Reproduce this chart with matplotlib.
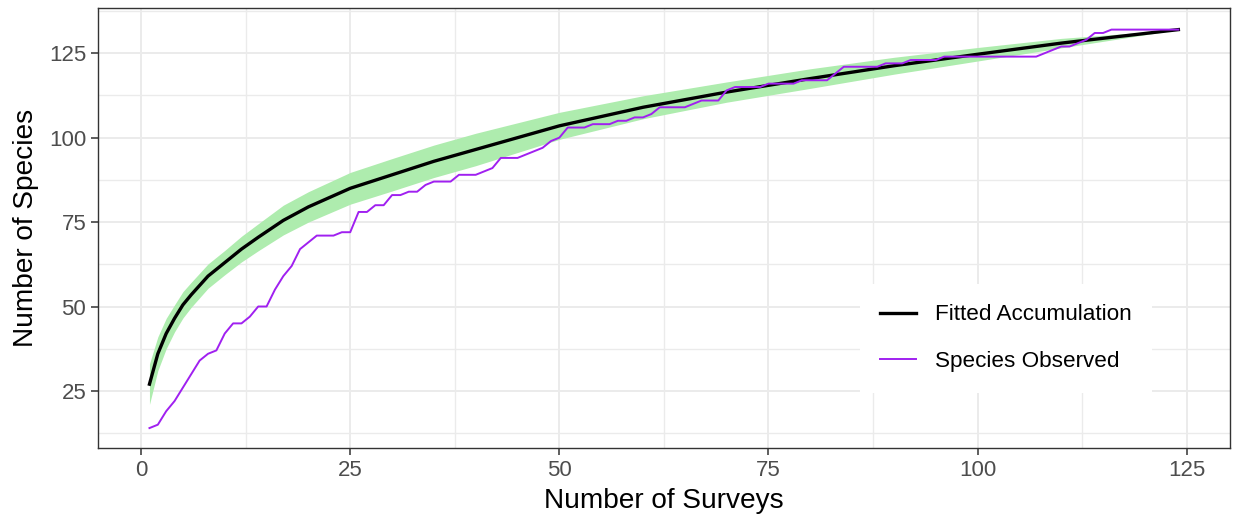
import numpy as np
import matplotlib
matplotlib.use("Agg")
import matplotlib.pyplot as plt
from matplotlib.ticker import MultipleLocator

plt.rcParams['font.family'] = ['Liberation Sans', 'DejaVu Sans']

# species observed after each survey
surveys = list(range(1, 125))
observed = [14, 15, 19, 22, 26, 30, 34, 36, 37, 42,
            45, 45, 47, 50, 50, 55, 59, 62, 67, 69,
            71, 71, 71, 72, 72, 78, 78, 80, 80, 83,
            83, 84, 84, 86, 87, 87, 87, 89, 89, 89,
            90, 91, 94, 94, 94, 95, 96, 97, 99, 100,
            103, 103, 103, 104, 104, 104, 105, 105, 106, 106,
            107, 109, 109, 109, 109, 110, 111, 111, 111, 114,
            115, 115, 115, 115, 116, 116, 116, 116, 117, 117,
            117, 117, 119, 121, 121, 121, 121, 121, 122, 122,
            122, 123, 123, 123, 123, 124, 124, 124, 124, 124,
            124, 124, 124, 124, 124, 124, 124, 125, 126, 127,
            127, 128, 129, 131, 131, 132, 132, 132, 132, 132,
            132, 132, 132, 132]

# fitted accumulation curve and its band
fit_x = [1, 2, 3, 4, 5, 6, 8, 10, 12, 14, 17, 20, 25, 30, 35, 40,
         50, 60, 70, 80, 90, 100, 110, 124]
fitted = [27, 36, 42, 46.5, 50.5, 53.5, 59, 63, 67, 70.5, 75.5, 79.5,
          85, 89, 93, 96.5, 103.5, 109, 113.5, 117.5, 121.3, 124.7, 128, 132]
fit_lo = [21, 31, 37.5, 42.5, 46.6, 49.8, 55.4, 59.4, 63.2, 66.5, 71.2, 75,
          80.3, 84.2, 88.2, 91.7, 99.5, 105.6, 110.5, 114.6, 118.8, 122.7, 126.6, 132]
fit_hi = [33, 41, 46.5, 50.5, 54.4, 57.2, 62.6, 66.6, 70.8, 74.5, 80, 84,
          89.7, 93.8, 97.8, 101.3, 107.5, 112.4, 116.5, 120.4, 123.8, 126.7, 129.4, 132]

fig = plt.figure(figsize=(12.36, 5.16), dpi=100)
ax = fig.add_axes([0.0793, 0.1318, 0.9157, 0.8527])

ax.fill_between(fit_x, fit_lo, fit_hi, color='#aeecae', linewidth=0, zorder=2)
ax.plot(fit_x, fitted, color='black', linewidth=2.4, label='Fitted Accumulation', zorder=3)
ax.plot(surveys, observed, color='#A020F0', linewidth=1.4, label='Species Observed', zorder=4)

ax.set_xlim(-5.15, 130.15)
ax.set_ylim(8.1, 138.4)
ax.xaxis.set_major_locator(MultipleLocator(25))
ax.xaxis.set_minor_locator(MultipleLocator(12.5))
ax.yaxis.set_major_locator(MultipleLocator(25))
ax.yaxis.set_minor_locator(MultipleLocator(12.5))
ax.set_yticks([25, 50, 75, 100, 125])

ax.grid(which='major', color='#ebebeb', linewidth=1.4, zorder=0)
ax.grid(which='minor', color='#ebebeb', linewidth=1.0, zorder=0)
ax.set_axisbelow(True)
ax.tick_params(which='major', length=5, width=1.1, color='#333333',
               labelsize=16, labelcolor='#4d4d4d', pad=3.5)
ax.tick_params(which='minor', length=0)
for s in ax.spines.values():
    s.set_color('#333333')
    s.set_linewidth(1.0)

ax.set_xlabel('Number of Surveys', fontsize=20.2, labelpad=5)
ax.set_ylabel('Number of Species', fontsize=20.2, labelpad=7)

leg = ax.legend(loc='center', bbox_to_anchor=(0.802, 0.249), fontsize=16.2,
                frameon=True, fancybox=False, facecolor='white', edgecolor='none',
                framealpha=1, handlelength=1.6, handletextpad=0.85,
                labelspacing=1.15, borderpad=0.9)

fig.savefig('out.png', dpi=100)
